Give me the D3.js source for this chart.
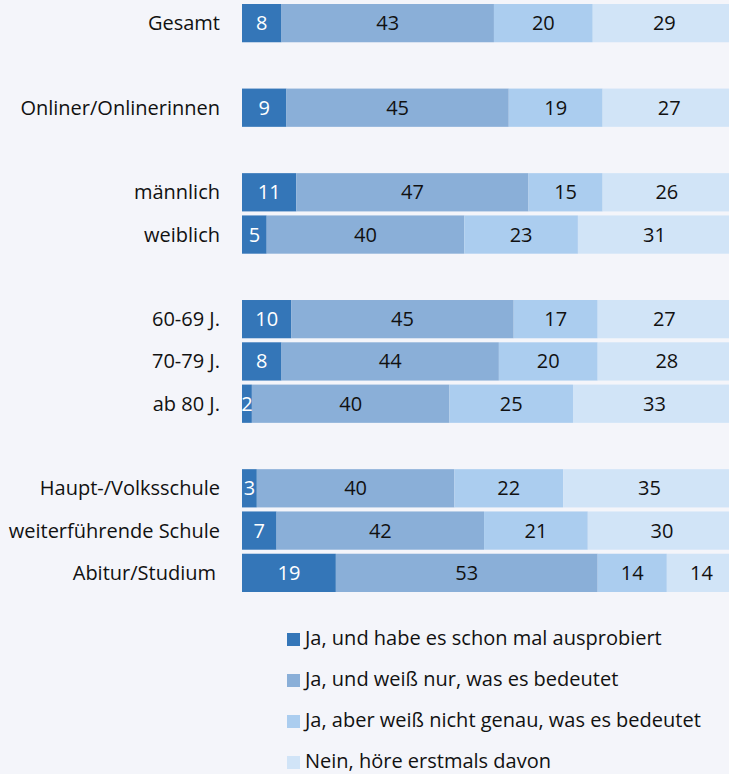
<!DOCTYPE html>
<html>
<head>
<meta charset="utf-8">
<script src="https://cdn.jsdelivr.net/npm/d3@7"></script>
<style>
  body { margin: 0; background: #f4f5fa; }
  svg { display: block; font-family: "Open Sans", "Noto Sans", sans-serif; }
</style>
</head>
<body>
<svg id="chart" width="729" height="774"></svg>
<script>
// rows of the chart, "" marks an empty slot between groups
var categories = ["Gesamt", "", "Onliner/Onlinerinnen", "", "männlich", "weiblich", "",
                  "60-69 J.", "70-79 J.", "ab 80 J.", "",
                  "Haupt-/Volksschule", "weiterführende Schule", "Abitur/Studium"];

var seriesNames = ["Ja, und habe es schon mal ausprobiert",
                   "Ja, und weiß nur, was es bedeutet",
                   "Ja, aber weiß nicht genau, was es bedeutet",
                   "Nein, höre erstmals davon"];

var triedIt   = [8, 9, 11, 5, 10, 8, 2, 3, 7, 19];
var knowsOnly = [43, 45, 47, 40, 45, 44, 40, 40, 42, 53];
var notExact  = [20, 19, 15, 23, 17, 20, 25, 22, 21, 14];
var neverHeard = [29, 27, 26, 31, 27, 28, 33, 35, 30, 14];

var colors = ["#3476b8", "#8aafd8", "#abcdef", "#d1e4f7"];

var rows = categories.filter(c => c !== "");
var data = rows.map((c, i) => ({
  cat: c,
  vals: [triedIt[i], knowsOnly[i], notExact[i], neverHeard[i]]
}));

var svg = d3.select("#chart");

var x = d3.scaleLinear().domain([0, 100]).range([242, 736]);
var y = d3.scaleBand().domain(categories.map((c, i) => i)).range([4, 4 + 42 * categories.length])
  .paddingInner(4 / 42).paddingOuter(0).align(0);

var rowIndex = {};
categories.forEach((c, i) => { if (c) rowIndex[c] = i; });

var rowG = svg.append("g").selectAll("g")
  .data(data)
  .enter()
  .append("g")
  .attr("transform", d => "translate(0," + y(rowIndex[d.cat]) + ")");

rowG.append("text")
  .attr("x", d => d.cat === "Abitur/Studium" ? 216 : 220)
  .attr("y", y.bandwidth() / 2)
  .attr("dy", "0.35em")
  .attr("text-anchor", "end")
  .style("font-size", "20px")
  .style("fill", "#111")
  .text(d => d.cat);

rowG.each(function(d) {
  var g = d3.select(this);
  var start = 0;
  var segs = d.vals.map((v, k) => {
    var s = {v: v, k: k, x0: start, x1: start + v};
    start += v;
    return s;
  });
  g.selectAll("rect")
    .data(segs)
    .enter()
    .append("rect")
    .attr("x", s => x(s.x0))
    .attr("width", s => x(s.x1) - x(s.x0))
    .attr("height", y.bandwidth())
    .style("fill", s => colors[s.k]);
  g.selectAll("text.val")
    .data(segs)
    .enter()
    .append("text")
    .attr("class", "val")
    .attr("x", s => (x(s.x0) + x(Math.min(s.x1, 100))) / 2)
    .attr("y", y.bandwidth() / 2)
    .attr("dy", "0.35em")
    .attr("text-anchor", "middle")
    .style("font-size", "20px")
    .style("fill", s => s.k === 0 ? "#fff" : "#111")
    .text(s => s.v);
});

// legend
var legend = svg.append("g").selectAll("g")
  .data(seriesNames)
  .enter()
  .append("g")
  .attr("transform", (d, i) => "translate(287," + (633 + i * 41) + ")");

legend.append("rect")
  .attr("width", 13)
  .attr("height", 13)
  .style("fill", (d, i) => colors[i]);

legend.append("text")
  .attr("x", 18)
  .attr("y", 12)
  .style("font-size", "20px")
  .style("fill", "#111")
  .text(d => d);
</script>
</body>
</html>
